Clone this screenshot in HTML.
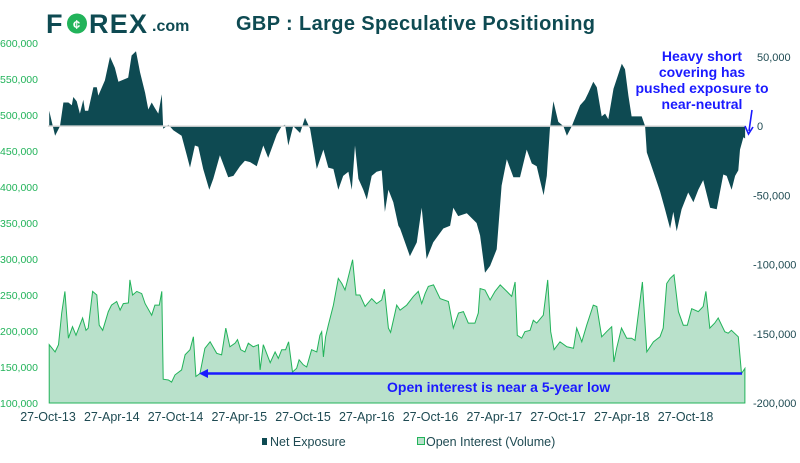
<!DOCTYPE html>
<html><head><meta charset="utf-8"><style>
body{margin:0;background:#fff;width:800px;height:458px;overflow:hidden;}
svg text{font-family:"Liberation Sans Narrow","Liberation Sans",sans-serif;}
</style></head><body>
<svg id="chart" width="800" height="458" xmlns="http://www.w3.org/2000/svg">
<g>
<text x="46" y="33" font-weight="bold" font-size="27" fill="#0e4a52" style="font-family:'Liberation Sans',sans-serif">F</text>
<circle cx="77" cy="23.5" r="10" fill="#22b35a"/><text x="73" y="29" font-size="13" font-weight="bold" fill="#fff" style="font-family:'Liberation Sans',sans-serif">¢</text>
<text x="89" y="33" font-weight="bold" font-size="27" fill="#0e4a52" style="font-family:'Liberation Sans',sans-serif" textLength="58">REX</text>
<text x="152" y="31" font-weight="bold" font-size="16" fill="#0e4a52" style="font-family:'Liberation Sans',sans-serif">.com</text>
</g>
<text x="236" y="30" font-weight="bold" font-size="20" fill="#0e4a52" style="font-family:'Liberation Sans',sans-serif" textLength="359">GBP : Large Speculative Positioning</text>
<g id="plot"></g>
</svg>
<script>
const weeks=[0.5,2.9,4.9,6.3,8.3,9.7,10.3,11.7,13,14.4,15.1,16.4,18.5,19.9,20.5,23.2,25.3,27.3,28.7,31.4,32.7,34.1,35.9,37.5,39.6,40.9,42.3,43.6,45,46.4,47,49.1,51.1,54.5,56.6,57.9,59.9,61.3,63.3,65.8,67.4,70.1,73.5,75.6,78.3,80.3,82.4,85.1,87.8,89.8,93.3,95.3,96.7,98,100,102.8,104.8,106.9,109.6,112.3,114.3,116.4,118.4,120.4,122.5,123.9,125.2,126.6,128.6,130,132,134,136.1,137.4,138.8,140.8,142.9,143.6,147.6,150.4,152.4,154.4,157.1,161.2,164,165.3,167.3,170.8,174.8,176.2,178.2,180.3,183,185,187.1,189.8,192.5,195.2,197.3,199.3,202.1,203.4,204.7,206.1,208.1,210.2,211.6,213.6,217,219,220.4,222.4,223.8,225.8,227.2,228.5,230.6,234,235.3,236.7,238,240.8,242.1,243.5,244.2,246.9,249.6,251.6,253.7,255,256.4,258.4,261.1,263.2,265.2,267.2,270,272.7,275.4,276.8,278.8,280.2,281.5,282.2,283.6,284.3];
const netExposure=[11,-7,0,17,17,15,21,18,9,19,11,11,28,28,22,33,50,42,32,34,35,51,54,39,24,12,17,13,9,23,-2,1,-3,-7,-21,-30,-14,-15,-31,-46,-38,-21,-37,-36,-29,-25,-26,-29,-14,-23,-6,0,1,-14,0,-5,6,-2,-31,-17,-30,-31,-46,-36,-33,-46,-14,-38,-46,-53,-36,-33,-32,-62,-46,-55,-72,-74,-94,-84,-59,-96,-84,-74,-72,-59,-65,-63,-70,-79,-106,-101,-89,-43,-24,-37,-37,-17,-27,-29,-50,-36,-2,18,3,0,-7,0,15,19,24,32,28,7,9,5,27,45,41,22,7,7,7,0,-19,-33,-47,-60,-74,-62,-76,-60,-48,-55,-46,-39,-59,-60,-35,-36,-46,-36,-32,-17,-8,-9];
const oiWeeks=[0.5,2.9,4.3,5.6,6.9,8.3,10,11.4,14.1,15.5,16.4,18.2,19.9,20.9,22.3,24.6,25.9,28,29.4,30.7,32.8,33.4,34.5,36.2,38.2,39.6,42.3,43.6,45.4,46.4,47,49.1,50.4,51.8,54.5,55.9,57.9,59.3,60.3,62,64,66.1,68.8,70.8,72.5,74.2,76.3,77.3,78.6,80.3,81.7,83.7,85.8,86.5,87.8,90.6,92.6,93.9,95.3,96.9,98.1,99.7,101.4,102.4,104.1,105.5,107.5,109.6,110.9,111.6,112.3,113.2,114.3,116.4,118.4,119.8,121.1,121.8,124.2,125.6,127.2,129.3,132,134,136.1,137.2,138.8,139.7,141.5,142.2,143.6,146.3,149,151,152.4,153.8,155.1,157.2,159.9,163.3,165.3,167.4,169.4,171.4,174.1,175.5,176.2,178.2,180.3,182.3,184.4,187.1,189.1,190.5,191.4,193.2,194.5,196.6,197.9,199.3,202,203.8,205,206.4,208.8,211.6,214.3,215.6,217.7,219.7,222.4,223.8,225.8,227.8,229.9,230.8,231.9,233.9,236,238,239.4,242.4,244.2,246.9,249.6,250.9,252.3,253.7,255.3,257.1,259.1,260.7,262.5,265.2,267.2,268.3,269.9,271.9,273.3,276,277.4,278.7,281.5,282.8,284.2];
const openInterest=[181,171,181,225,255,190,206,194,218,201,204,255,250,208,201,227,236,241,229,238,239,271,250,255,252,238,222,236,236,255,133,132,129,139,146,167,174,192,137,141,176,185,169,167,204,178,183,188,174,171,183,178,181,146,181,156,171,162,174,174,185,143,148,160,153,150,174,171,194,199,164,192,208,236,273,266,257,266,299,250,250,234,245,238,243,258,204,198,225,236,229,236,248,255,238,252,262,264,245,241,204,225,227,211,211,225,259,257,243,255,264,255,248,268,194,190,199,201,215,211,222,271,199,174,185,178,176,204,185,208,236,234,192,199,206,157,176,204,190,190,187,268,171,185,192,204,266,273,278,227,208,208,231,227,234,255,204,211,218,199,197,201,192,141,148];
const xLabels=["27-Oct-13","27-Apr-14","27-Oct-14","27-Apr-15","27-Oct-15","27-Apr-16","27-Oct-16","27-Apr-17","27-Oct-17","27-Apr-18","27-Oct-18"];
const xLabelWeeks=[0,26,52,78,104,130,156,182,208,234,260];
const leftTicks=[100,150,200,250,300,350,400,450,500,550,600];
const rightTicks=[50,0,-50,-100,-150,-200];

const NS="http://www.w3.org/2000/svg";
const X0=48,PXW=(688-48)/261,YB=403,YT=43;
const xs=w=>X0+w*PXW;
const yL=v=>YB-(v-100)/500*(YB-YT);
const yR=v=>YB-(v+200)/260*(YB-YT);
const fmt=k=>k===0?'0':(k<0?'-':'')+Math.abs(k)+',000';
const plot=document.getElementById('plot');
function mk(t,a){const e=document.createElementNS(NS,t);for(const k in a)e.setAttribute(k,a[k]);plot.appendChild(e);return e;}

let d=`M${xs(oiWeeks[0])},${YB}`;
oiWeeks.forEach((w,i)=>{d+=`L${xs(w).toFixed(1)},${yL(openInterest[i]).toFixed(1)}`;});
d+=`L${xs(oiWeeks[oiWeeks.length-1])},${YB}Z`;
let oi=mk('path',{d:d,fill:'#b9e1cb',stroke:'#22b35a','stroke-width':1});



let z=yR(0);
let d2=`M${xs(weeks[0])},${z}`;
weeks.forEach((w,i)=>{d2+=`L${xs(w).toFixed(1)},${yR(netExposure[i]).toFixed(1)}`;});
d2+=`L${xs(weeks[weeks.length-1])},${z}Z`;
let ne=mk('path',{d:d2,fill:'#0e4a52'});


let zl=mk('line',{x1:X0,x2:xs(weeks[weeks.length-1]),y1:z,y2:z,stroke:'#d9d9d9','stroke-width':1.5});



leftTicks.forEach(v=>{const t=mk('text',{x:0,y:yL(v)+4,'font-size':10.5,fill:'#22b35a',textLength:38});t.textContent=fmt(v);

});
rightTicks.forEach(v=>{const t=mk('text',{x:v<0?753:(v===0?757:757),y:yR(v)+4,'font-size':11,fill:'#1e4a52'});t.textContent=fmt(v);

});
xLabels.forEach((s,i)=>{const t=mk('text',{x:xs(xLabelWeeks[i]),y:421,'font-size':12.5,fill:'#1e4a52','text-anchor':'middle'});t.textContent=s;

});

const ann=["Heavy short","covering has","pushed exposure to","near-neutral"];
ann.forEach((s,i)=>{const t=mk('text',{x:702,y:61+i*16,'font-size':14,'font-weight':'bold',fill:'#1a1aff','text-anchor':'middle',style:"font-family:'Liberation Sans',sans-serif"});t.textContent=s;

});
let a1=mk('path',{d:'M752,110 L749,131 M745,126 L748.5,134 L753,127',stroke:'#1a1aff','stroke-width':1.6,fill:'none'});


let a2=mk('line',{x1:205,x2:742,y1:373.5,y2:373.5,stroke:'#1a1aff','stroke-width':2.5});


let a3=mk('path',{d:'M199,373.5 L208,369 L208,378 Z',fill:'#1a1aff'});


let t2=mk('text',{x:387,y:392,'font-size':14,'font-weight':'bold',fill:'#1a1aff',style:"font-family:'Liberation Sans',sans-serif"});t2.textContent='Open interest is near a 5-year low';



let l1=mk('rect',{x:262,y:438,width:5,height:7,fill:'#0e4a52'});


let lt1=mk('text',{x:270,y:446,'font-size':12.5,fill:'#1e4a52'});lt1.textContent='Net Exposure';


let l2=mk('rect',{x:417.5,y:437.5,width:7,height:7,fill:'#b9e1cb',stroke:'#22b35a'});


let lt2=mk('text',{x:426,y:446,'font-size':12.5,fill:'#1e4a52'});lt2.textContent='Open Interest (Volume)';


</script>
</body></html>
